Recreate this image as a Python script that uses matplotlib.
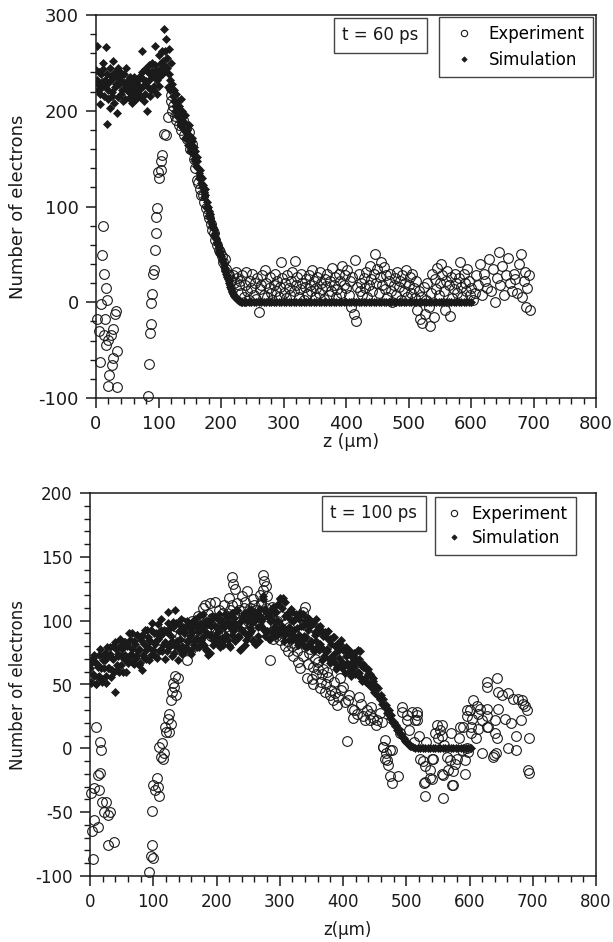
import matplotlib
matplotlib.use("Agg")
import matplotlib.pyplot as plt
from matplotlib.ticker import MultipleLocator

plt.rcParams['font.family'] = ['DejaVu Sans']
plt.rcParams['axes.unicode_minus'] = False

# ---------------- t = 60 ps : simulation ----------------
sim60_z = [0, 1, 2, 3, 4, 5, 6, 7, 8, 9, 10, 11, 12, 13, 14, 15, 16, 17, 18, 19,
           20, 21, 22, 23, 24, 25, 26, 27, 28, 29, 30, 31, 32, 33, 34, 35, 36, 37, 38, 39,
           40, 41, 42, 43, 44, 45, 46, 47, 48, 49, 50, 51, 52, 53, 54, 55, 56, 57, 58, 59,
           60, 61, 62, 63, 64, 65, 66, 67, 68, 69, 70, 71, 72, 73, 74, 75, 76, 77, 78, 79,
           80, 81, 82, 83, 84, 85, 86, 87, 88, 89, 90, 91, 92, 93, 94, 95, 96, 97, 98, 99,
           100, 101, 102, 103, 104, 105, 106, 107, 108, 109, 110, 111, 112, 113, 114, 115, 116, 117, 118, 119, 120,
           122, 123, 124, 125, 126, 127, 128, 129, 130, 131, 132, 133, 134, 135, 136, 137, 138, 139,
           140, 141, 142, 143, 144, 145, 146, 147, 148, 149, 150, 151, 152, 153, 154, 155, 156, 157, 158, 159,
           160, 161, 162, 163, 164, 165, 166, 167, 168, 169, 170, 171, 172, 173, 174, 175, 176, 177, 178, 179,
           180, 181, 182, 183, 184, 185, 186, 187, 188, 189, 190, 191, 192, 193, 194, 195, 196, 197, 198, 199,
           200, 201, 202, 203, 204, 205, 206, 207, 208, 209, 210, 211, 212, 213, 214, 215, 216, 217, 218, 219,
           220, 221, 222, 223, 224, 225, 226, 227, 228, 229, 230, 232, 234, 236, 238, 240,
           244, 248, 252, 256, 260, 264, 268, 272, 276, 280, 284, 288, 292, 296, 300, 304, 308, 312, 316, 320,
           324, 328, 332, 336, 340, 344, 348, 352, 356, 360, 364, 368, 372, 376, 380, 384, 388, 392, 396, 400,
           404, 408, 412, 416, 420, 424, 428, 432, 436, 440, 444, 448, 452, 456, 460, 464, 468, 472, 476, 480,
           484, 488, 492, 496, 500, 504, 508, 512, 516, 520, 524, 528, 532, 536, 540, 544, 548, 552, 556, 560,
           564, 568, 572, 576, 580, 584, 588, 592, 596, 600]
sim60_v = [243, 232, 268, 222, 228, 240, 207, 218, 238, 230, 225, 244, 250, 215, 232, 226, 267, 238, 186, 212,
           222, 230, 203, 245, 236, 220, 215, 234, 252, 208, 240, 225, 228, 236, 198, 214, 245, 228, 232, 240,
           218, 222, 238, 230, 210, 238, 228, 212, 245, 225, 222, 232, 213, 220, 235, 228, 226, 216, 208, 224,
           230, 235, 222, 228, 212, 218, 228, 232, 218, 225, 236, 214, 224, 240, 262, 226, 210, 232, 244, 218,
           231, 242, 200, 225, 248, 232, 238, 215, 222, 242, 250, 236, 226, 222, 268, 248, 242, 232, 218, 240,
           258, 226, 236, 244, 250, 238, 262, 252, 285, 240, 247, 262, 275, 245, 255, 225, 265, 238, 232, 222, 250,
           228, 215, 210, 222, 200, 205, 218, 200, 195, 210, 205, 196, 188, 185, 212, 200, 192, 182,
           180, 188, 196, 172, 178, 180, 170, 164, 185, 175, 165, 158, 160, 168, 172, 155, 150, 162, 158, 148,
           142, 152, 148, 140, 135, 130, 138, 132, 125, 120, 130, 122, 115, 110, 118, 112, 100, 98, 105, 100,
           95, 90, 92, 88, 85, 80, 82, 79, 76, 70, 72, 68, 66, 62, 63, 60, 57, 52, 54, 50,
           48, 44, 45, 42, 40, 37, 36, 33, 30, 28, 26, 24, 22, 20, 18, 16, 14, 12, 11, 9,
           8, 7, 6, 5, 4, 3.5, 3, 2.5, 2, 1.5, 1, 0.5, 0.3, 0.2, 0, 0,
           0, 0, 0, 0, 0, 0, 0, 0, 0, 0, 0, 0, 0, 0, 0, 0, 0, 0, 0, 0,
           0, 0, 0, 0, 0, 0, 0, 0, 0, 0, 0, 0, 0, 0, 0, 0, 0, 0, 0, 0,
           0, 0, 0, 0, 0, 0, 0, 0, 0, 0, 0, 0, 0, 0, 0, 0, 0, 0, 0, 0,
           0, 0, 0, 0, 0, 0, 0, 0, 0, 0, 0, 0, 0, 0, 0, 0, 0, 0, 0, 0,
           0, 0, 0, 0, 0, 0, 0, 0, 0, 0]

# ---------------- t = 60 ps : experiment ----------------
exp60_z = [1, 5, 6.4, 7.5, 9, 10.7, 12.3, 12.8, 14, 15.5, 16, 17.6, 18.7, 19.7, 21.3, 23.5, 25, 26.7, 27.7,
           30, 31.5, 33, 33,
           82.7, 84, 86, 87.5, 87.5, 89, 90.7, 92.3, 94, 96, 95.5, 97, 99.7, 101, 103.5, 104, 105, 109, 112,
           115, 119.5, 120,
           121, 123.5, 126, 128.5, 131, 133.5, 136, 138.5, 141, 143.5, 146, 148.5, 151, 153.5, 156, 158.5,
           161, 163.5, 166, 168.5, 171, 173.5, 176, 178.5, 181, 183.5, 186, 188.5, 191, 193.5, 196, 198.5,
           201, 203.5, 206, 208.5, 211, 213.5, 216, 218.5, 221, 223.5, 226, 228.5, 231,
           232, 234, 236, 238, 240, 242, 244, 246, 248, 250, 252, 254, 256, 258, 260, 262, 264, 266, 268, 270,
           272, 274, 276, 278, 280, 282, 284, 286, 288, 290, 292, 294, 296, 298, 300, 302, 304, 306, 308, 310,
           312, 314, 316, 318, 320, 322, 324, 326, 328, 330, 332, 334, 336, 338, 340, 342, 344, 346, 348, 350,
           352, 354, 356, 358, 360, 362, 364, 366, 368, 370, 372, 374, 376, 378, 380, 382, 384, 386, 388, 390,
           392, 394, 396, 398, 400, 402, 404, 406, 408, 410, 412, 414, 416, 418, 420, 422, 424, 426, 428, 430,
           432, 434, 436, 438, 440, 442, 444, 446, 448, 450, 452, 454, 456, 458, 460, 462, 464, 466, 468, 470,
           472, 474, 476, 478, 480, 482, 484, 486, 488, 490, 492, 494, 496, 498, 500, 502, 504, 506, 508, 510,
           512, 514, 516, 518, 520, 522, 524, 526, 528, 530, 532, 534, 536, 538, 540, 542, 544, 546, 548, 550,
           552, 554, 556, 558, 560, 562, 564, 566, 568, 570, 572, 574, 576, 578, 580, 582, 584, 586, 588, 590,
           592, 594, 596, 598, 600, 603, 606, 608, 611, 614, 617, 620, 623, 626, 629, 632, 635, 638, 641, 644,
           647, 650, 653, 656, 659, 662, 665, 668, 671, 674, 677, 680, 682, 684, 686, 688, 690, 692, 694]
exp60_v = [-18, -30, -62, -2, 49, 80, 30, -34, -18, 15, -45, 2, -39, -87, -76, -34, -66, -58, -28,
           -12, -9, -51, -88,
           -98, -64, -32, -23, -1, 9, 30, 34, 55, 72, 89, 98, 136, 130, 138, 147, 154, 176, 175,
           193, 210, 216,
           200, 205, 195, 190, 198, 185, 180, 190, 175, 182, 170, 178, 160, 165, 150, 140,
           128, 125, 118, 112, 112, 105, 98, 92, 88, 82, 75, 72, 65, 60, 55, 52,
           48, 42, 45, 35, 30, 28, 22, 28, 20, 32, 25, 18, 22,
           10, 28, 5, 18, 32, 12, 2, 22, 15, 30, 8, 20, 3, 25, -10, 14, 18, 28, 8, 34,
           20, 5, 15, 26, 10, 2, 18, 30, 12, 22, 6, 16, 42, 25, 10, 20, 4, 28, 15, 8,
           22, 32, 12, 43, 18, 26, 6, 14, 30, 20, 2, 16, 24, 9, 28, 18, 12, 34, 22, 5,
           15, 26, 10, 32, 20, 14, 3, 24, 17, 30, 8, 22, 12, 36, 18, 26, 6, 14, 30, 22,
           10, 38, 18, 28, 15, 34, 8, 22, -5, 26, -12, 44, -20, 16, 30, 12, 20, 8, 25, 15,
           32, 5, 18, 38, 24, 12, 30, 50, 20, 35, 10, 26, 42, 18, 37, 14, 28, 6, 22, 30,
           12, 0, 18, 25, 8, 32, 16, 22, 2, 28, 12, 20, 34, 6, 18, 26, 10, 30, 15, 4,
           22, -8, 12, -18, 6, -22, 16, -12, 2, 20, -5, -25, 10, 30, -15, 24, 14, 36, 8, 20,
           40, 28, 12, -8, 22, 33, 18, -14, 26, 4, 14, 30, 20, 10, 25, 42, 16, 6, 30, 20,
           12, 35, 22, 8, 15, 2, 10, 28, 18, 40, 8, 30, 22, 15, 45, 12, 35, 0, 25, 52,
           18, 38, 8, 28, 46, 20, 12, 30, 24, 10, 40, 50, 5, 22, 32, -5, 15, 28, -8]

# ---------------- t = 100 ps : simulation ----------------
sim100_z = [0, 2, 4, 6, 8, 10, 12, 14, 16, 18, 20, 22, 24, 26, 28, 30, 32, 34, 36, 38,
            40, 42, 44, 46, 48, 50, 52, 54, 56, 58, 60, 62, 64, 66, 68, 70, 72, 74, 76, 78,
            80, 82, 84, 86, 88, 90, 92, 94, 96, 98, 100, 102, 104, 106, 108, 110, 112, 114, 116, 118,
            120, 122, 124, 126, 128, 130, 132, 134, 136, 138, 140, 142, 144, 146, 148, 150, 152, 154, 156, 158,
            160, 162, 164, 166, 168, 170, 172, 174, 176, 178, 180, 182, 184, 186, 188, 190, 192, 194, 196, 198,
            200, 202, 204, 206, 208, 210, 212, 214, 216, 218, 220, 222, 224, 226, 228, 230, 232, 234, 236, 238,
            240, 242, 244, 246, 248, 250, 252, 254, 256, 258, 260, 262, 264, 266, 268, 270, 272, 274, 276, 278,
            280, 282, 284, 286, 288, 290, 292, 294, 296, 298, 300, 302, 304, 306, 308, 310, 312, 314, 316, 318,
            320, 322, 324, 326, 328, 330, 332, 334, 336, 338, 340, 342, 344, 346, 348, 350, 352, 354, 356, 358,
            360, 362, 364, 366, 368, 370, 372, 374, 376, 378, 380, 382, 384, 386, 388, 390, 392, 394, 396, 398,
            400, 402, 404, 406, 408, 410, 412, 414, 416, 418, 420, 422, 424, 426, 428, 430, 432, 434, 436, 438,
            440, 442, 444, 446, 448, 450, 452, 454, 456, 458, 460, 462, 464, 466, 468, 470, 472, 474, 476, 478,
            480, 482, 484, 486, 488, 490, 492, 494, 496, 498, 500, 502, 504, 506, 508, 510,
            514, 518, 522, 526, 530, 534, 538, 542, 546, 550, 554, 558, 562, 566, 570, 574, 578, 582, 586, 590,
            594, 598, 602]
sim100_v = [63, 51, 71, 57, 68, 50, 64, 57, 78, 54, 69, 63, 75, 51, 73, 63, 79, 61, 70, 60,
            83, 65, 74, 60, 80, 72, 60, 83, 73, 80, 67, 90, 72, 78, 67, 84, 72, 89, 76, 65,
            85, 89, 73, 82, 70, 93, 79, 85, 73, 98, 77, 82, 90, 71, 86, 77, 93, 76, 90, 83,
            92, 76, 98, 81, 88, 72, 95, 80, 98, 84, 92, 77, 101, 80, 90, 76, 96, 84, 98, 88,
            74, 95, 81, 101, 86, 94, 79, 97, 85, 105, 81, 92, 78, 100, 89, 75, 96, 85, 103, 88,
            95, 82, 105, 86, 100, 81, 95, 88, 103, 85, 99, 79, 106, 92, 98, 85, 108, 88, 95, 78,
            103, 92, 106, 85, 100, 88, 108, 92, 98, 84, 105, 82, 102, 88, 109, 96, 101, 117, 88, 107,
            92, 105, 86, 101, 91, 111, 95, 107, 89, 100, 118, 93, 110, 89, 115, 93, 105, 85, 101, 89,
            107, 93, 101, 85, 103, 89, 106, 85, 96, 80, 100, 87, 102, 81, 96, 83, 98, 76, 91, 84,
            95, 77, 96, 79, 90, 72, 91, 76, 86, 70, 86, 72, 87, 68, 80, 64, 81, 71, 82, 63,
            77, 65, 79, 67, 75, 60, 72, 62, 73, 64, 68, 58, 77, 59, 65, 53, 64, 54, 63, 51,
            58, 50, 57, 48, 53, 43, 49, 42, 47, 39, 42, 35, 39, 32, 34, 28, 30, 24, 26, 21,
            21, 17.5, 18, 14.5, 15, 11, 11.5, 9, 8, 6, 5, 4, 3, 2, 1.5, 1,
            0, 0, 0, 0, 0, 0, 0, 0, 0, 0, 0, 0, 0, 0, 0, 0, 0, 0, 0, 0,
            0, 0, 0]
sim100b_z = [1, 3, 5, 7, 9, 11, 13, 15, 17, 19, 21, 23, 25, 27, 29, 31, 33, 35, 37, 39,
             41, 43, 45, 47, 49, 51, 53, 55, 57, 59, 61, 63, 65, 67, 69, 71, 73, 75, 77, 79,
             81, 83, 85, 87, 89, 91, 93, 95, 97, 99, 101, 103, 105, 107, 109, 111, 113, 115, 117, 119,
             121, 123, 125, 127, 129, 131, 133, 135, 137, 139, 141, 143, 145, 147, 149, 151, 153, 155, 157, 159,
             161, 163, 165, 167, 169, 171, 173, 175, 177, 179, 181, 183, 185, 187, 189, 191, 193, 195, 197, 199,
             201, 203, 205, 207, 209, 211, 213, 215, 217, 219, 221, 223, 225, 227, 229, 231, 233, 235, 237, 239,
             241, 243, 245, 247, 249, 251, 253, 255, 257, 259, 261, 263, 265, 267, 269, 271, 273, 275, 277, 279,
             281, 283, 285, 287, 289, 291, 293, 295, 297, 299, 301, 303, 305, 307, 309, 311, 313, 315, 317, 319,
             321, 323, 325, 327, 329, 331, 333, 335, 337, 339, 341, 343, 345, 347, 349, 351, 353, 355, 357, 359,
             361, 363, 365, 367, 369, 371, 373, 375, 377, 379, 381, 383, 385, 387, 389, 391, 393, 395, 397, 399,
             401, 403, 405, 407, 409, 411, 413, 415, 417, 419, 421, 423, 425, 427, 429, 431, 433, 435, 437, 439,
             441, 443, 445, 447, 449]
sim100b_v = [52, 68, 58, 73, 50, 66, 56, 73, 63, 52, 72, 69, 57, 79, 63, 74, 56, 71, 80, 44,
             78, 61, 72, 86, 65, 78, 70, 83, 60, 81, 69, 85, 74, 90, 66, 82, 71, 89, 78, 67,
             87, 61, 71, 93, 77, 87, 69, 84, 93, 77, 90, 72, 84, 97, 76, 88, 101, 81, 93, 70,
             91, 107, 79, 94, 84, 99, 75, 108, 80, 69, 97, 86, 74, 95, 91, 79, 100, 84, 94, 77,
             91, 100, 84, 97, 79, 91, 104, 83, 95, 87, 99, 77, 97, 73, 100, 89, 104, 81, 96, 85,
             102, 91, 79, 99, 96, 84, 105, 89, 99, 81, 95, 105, 89, 102, 84, 95, 108, 87, 77, 100,
             92, 104, 81, 101, 89, 104, 94, 109, 85, 100, 82, 106, 95, 84, 104, 100, 119, 93, 109, 91,
             104, 86, 100, 109, 93, 106, 88, 100, 113, 92, 117, 96, 118, 84, 104, 91, 106, 95, 109, 85,
             100, 88, 105, 94, 81, 101, 96, 84, 105, 88, 98, 79, 93, 101, 84, 97, 78, 89, 101, 79,
             91, 82, 93, 69, 88, 76, 90, 78, 92, 67, 82, 70, 87, 75, 62, 82, 77, 65, 85, 68,
             78, 59, 72, 78, 64, 76, 57, 68, 75, 58, 70, 60, 70, 76, 55, 66, 54, 63, 52, 62,
             50, 58, 48, 55, 44]

# ---------------- t = 100 ps : experiment ----------------
exp100_z = [1.6, 2.6, 5.3, 6.8, 6.8, 9.5, 12.1, 13.2, 14.2, 15.8, 15.8, 17.4, 19.5, 22.7, 24.8, 27.9,
            27.9, 31.6, 38.5,
            93.8, 95.9, 97.5, 98.5, 99, 100.1, 102.8, 105.4, 108, 109.1, 109.1, 112.3, 113.3, 115.9, 117.5,
            118.6, 119.7, 123.8, 124.9, 124.9, 128, 128, 130.2, 131.8, 133.3, 134.4, 135.5, 138.6,
            137, 142, 145, 147, 150, 153, 155, 158, 160, 162, 164, 166, 168, 170, 172, 174, 176, 178,
            181.8, 183, 185, 187, 189.7, 191, 193, 195, 197.6, 200, 202, 204, 206, 208, 210, 212, 214, 216,
            218, 220, 222, 224, 225, 226.6, 228, 229.2, 231, 232, 235, 236, 239.8, 241, 243, 245, 247.7,
            249, 250, 252, 253, 256, 257, 260, 262, 264, 266, 268, 270, 271, 273, 274, 275, 277.8, 278,
            279.3, 281, 282, 284.6, 286, 287, 289.8, 290, 292, 294, 296, 298, 300.4, 302, 304, 306, 308.3,
            310, 311, 313.5, 315, 317, 319, 321.4, 323, 325, 327, 329.4, 331, 332, 335, 336, 337.3, 339,
            340, 342.6, 344, 346, 348, 350.5, 352, 353, 356, 357, 360, 361, 363.6, 365, 367, 369, 371.5,
            373, 375, 377, 379.4, 381, 384.7, 386, 387.4, 390, 392, 395, 397, 400, 403, 406.8, 408.4, 410,
            413.7, 416.3, 418, 421.6, 425, 428, 432, 435, 437.5, 442.7, 442.7, 445, 448, 452, 453.2, 458,
            461.2,
            463.7, 463.7, 466.4, 466.4, 468, 469, 471.6, 474.3, 474.3, 477, 477, 487.5, 490, 492.8, 492.8,
            500.7, 500.7, 505, 508.6, 512, 513.9, 516.5, 516.5, 516.5, 520, 521.7, 527, 528, 529.6, 529.6,
            529.6, 532, 537.5, 537.5, 540.2, 540.2, 542.8, 545, 548, 550.7, 553.4, 556, 556, 556, 558.6,
            558.6, 560, 564, 566.5, 569.2, 570, 572.8, 574.4, 574.4, 577, 579.7, 583, 585, 587.7, 590,
            592.9, 592.9, 595.5, 595.5, 595.6, 598, 600.8, 603, 603, 603.4, 606, 610, 611.4, 614, 614,
            616.6, 619, 619.6, 627.2, 627.2, 627.2, 628, 628, 630, 637.6, 638, 640, 640, 641.4, 643, 644,
            645.6, 645.6, 650.9, 656, 661, 661.4, 666, 669.3, 674, 674, 677.2, 682, 682.5, 685.2, 687.7,
            690.4, 693, 694, 694]
exp100_v = [-35, -65, -87, -31, -56, 17, -21, -62, -33, 5, -19, -1, -42, -50, -42, -52,
            -76, -50, -73,
            -97, -84, -76, -49, -86, -29, -33, -23, -30, -37, 1, -7, 4, -8, -4,
            17, 12.5, 23, 27, 13, 38, 19, 44, 51, 48, 57, 42, 55,
            95, 88, 99, 80, 88, 69, 95, 92, 78, 100, 96, 85, 90, 104, 83, 95, 102, 110,
            112, 92, 98, 105, 114, 88, 102, 98, 115, 90, 100, 108, 92, 96, 106, 112, 95, 104,
            100, 118, 108, 112, 134, 129, 105, 125, 96, 114, 102, 108, 119, 98, 110, 115, 123,
            104, 100, 92, 110, 96, 117, 112, 108, 104, 100, 120, 115, 112, 124, 136, 131, 127, 110,
            119, 98, 105, 69, 104, 111, 86, 92, 95, 88, 100, 96, 85, 104, 90, 92, 80,
            98, 84, 76, 95, 88, 80, 72, 90, 82, 76, 68, 84, 63, 85, 72, 107, 100,
            111, 55, 66, 75, 78, 54, 64, 50, 70, 58, 62, 68, 47, 52, 58, 62, 44,
            50, 60, 56, 42, 46, 38, 52, 43, 34, 40, 55, 46, 48, 36, 6, 38, 42,
            31, 24, 30, 27, 40, 35, 25, 22, 30, 27, 22, 32, 24, 18, 22, 28,
            21,
            1, 0.8, 6.5, -8, -4, -9, -13, -1, -22, -27.5, -1.3, -22, 12, 32.6, 28.7,
            26, 22, 14, 28.7, 5, 22, 28.7, 26, 22, 10, -8, -10, -27, -14, -26,
            -37, 5, -17, -23, -8, -24, -8, 12, 18, 8, 14, 10, 18, -20, -21,
            -39, 3, -6.5, -17, -9, 12, -29, -18, -29, -12, -8, 8, 17, -1, 17,
            -9, -20, 30, 25, 0, -3, 30, 17, 12, 23, 38, 8, 33, 27, 15,
            31, -4, 22, 31, 52, 48, 25, 17, 17, -6.5, -5, 22, 12, -4, 8, 55,
            31, 44, 42, 23, 0, 43, 20, 39, 10, -1, 39, 22, 38, 35, 33,
            30, -17, -19, 8]

# ---------------- labels ----------------
x_ticks = [0, 100, 200, 300, 400, 500, 600, 700, 800]
ylabel_text = 'Number of electrons'
xlabel_top = 'z (µm)'
xlabel_bottom = 'z(µm)'
legend_labels = ['Experiment', 'Simulation']
time_labels = ['t = 60 ps', 't = 100 ps']

INK = '#1a1a1a'
fig = plt.figure(figsize=(6.13, 9.42), dpi=100)
ax1 = fig.add_axes([96 / 613, 1 - 398 / 942, 500 / 613, 383 / 942])
ax2 = fig.add_axes([90 / 613, 1 - 876 / 942, 506 / 613, 383 / 942])


def style(ax, ylim, ymaj, ymin, fs):
    ax.set_xlim(0, 800)
    ax.set_ylim(*ylim)
    ax.set_xticks(x_ticks)
    ax.xaxis.set_minor_locator(MultipleLocator(20))
    ax.yaxis.set_major_locator(MultipleLocator(ymaj))
    ax.yaxis.set_minor_locator(MultipleLocator(ymin))
    ax.tick_params(which='major', direction='out', length=7.5, width=1.1,
                   labelsize=fs, pad=5, colors=INK, top=False, right=False)
    ax.tick_params(which='minor', direction='out', length=4, width=1.0,
                   colors=INK, top=False, right=False)
    for s in ax.spines.values():
        s.set_linewidth(1.1)
        s.set_color(INK)


def draw(ax, ez, ev, sim_sets):
    ax.plot(ez, ev, 'o', ls='none', ms=7, mfc='none', mec=INK, mew=0.8,
            label=legend_labels[0], clip_on=False, zorder=3)
    for i, (sz, sv) in enumerate(sim_sets):
        ax.plot(sz, sv, 'D', ls='none', ms=4.2, color=INK, mec=INK, mew=0.5,
                label=legend_labels[1] if i == 0 else None, zorder=2)


# top panel
style(ax1, (-100, 300), 100, 20, 13)
draw(ax1, exp60_z, exp60_v, [(sim60_z, sim60_v)])
ax1.set_ylabel(ylabel_text, fontsize=13, color=INK)
ax1.yaxis.set_label_coords(-0.138, 0.5)
ax1.set_xlabel(xlabel_top, fontsize=12.5, color=INK)
ax1.xaxis.set_label_coords(0.51, -0.091)
ax1.text(0.569, 0.9465, time_labels[0], transform=ax1.transAxes, ha='center', va='center',
         fontsize=12, color=INK,
         bbox=dict(boxstyle='square,pad=0.5', fc='white', ec='#444444', lw=1.0))
leg1 = ax1.legend(loc='upper right', bbox_to_anchor=(0.994, 0.995), fontsize=12,
                  frameon=True, fancybox=False, edgecolor='#444444', framealpha=1,
                  borderaxespad=0, markerscale=0.65, handletextpad=0.5,
                  labelspacing=0.45, borderpad=0.5, handlelength=2.0)
leg1.get_frame().set_linewidth(1.0)

# bottom panel
style(ax2, (-100, 200), 50, 10, 12)
draw(ax2, exp100_z, exp100_v, [(sim100_z, sim100_v), (sim100b_z, sim100b_v)])
ax2.set_ylabel(ylabel_text, fontsize=12, color=INK)
ax2.yaxis.set_label_coords(-0.1245, 0.5)
ax2.set_xlabel(xlabel_bottom, fontsize=12, color=INK)
ax2.xaxis.set_label_coords(0.509, -0.1175)
ax2.text(0.561, 0.9465, time_labels[1], transform=ax2.transAxes, ha='center', va='center',
         fontsize=12, color=INK,
         bbox=dict(boxstyle='square,pad=0.5', fc='white', ec='#444444', lw=1.0))
leg2 = ax2.legend(loc='upper right', bbox_to_anchor=(0.960, 0.9896), fontsize=12,
                  frameon=True, fancybox=False, edgecolor='#444444', framealpha=1,
                  borderaxespad=0, markerscale=0.65, handletextpad=0.4,
                  labelspacing=0.35, borderpad=0.5, handlelength=1.3)
leg2.get_frame().set_linewidth(1.0)

fig.savefig('out.png', dpi=100)
